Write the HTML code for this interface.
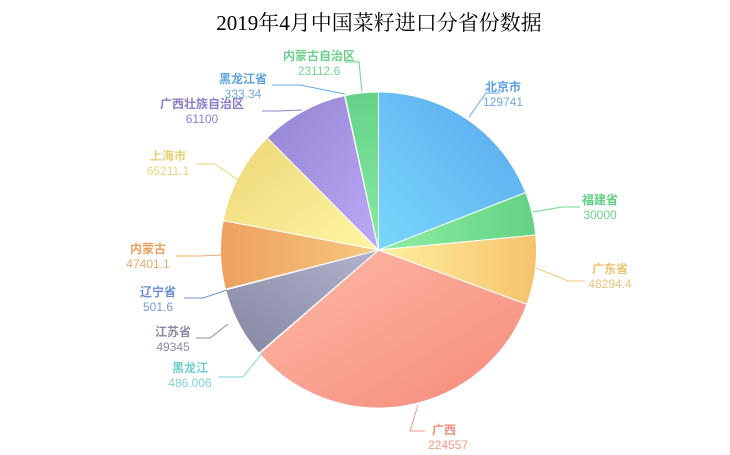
<!DOCTYPE html>
<html><head><meta charset="utf-8"><style>
html,body{margin:0;padding:0;background:#fff;width:730px;height:455px;overflow:hidden}
svg{display:block}
text{font-family:"Liberation Sans","Noto Sans CJK SC",sans-serif;font-size:12px;text-anchor:middle}
.n{font-weight:bold}
</style></head><body>
<svg id="s" width="730" height="455" viewBox="0 0 730 455">
<defs>
<linearGradient id="g0" x1="1" y1="0" x2="0" y2="1"><stop offset="0" stop-color="#58a6ec"/><stop offset="1" stop-color="#78d8fc"/></linearGradient>
<linearGradient id="g1" x1="1" y1="0" x2="0" y2="0"><stop offset="0" stop-color="#62d282"/><stop offset="1" stop-color="#8ef0a4"/></linearGradient>
<linearGradient id="g2" x1="1" y1="0" x2="0" y2="0"><stop offset="0" stop-color="#f6c26c"/><stop offset="1" stop-color="#fff0a0"/></linearGradient>
<linearGradient id="g3" x1="1" y1="1" x2="0" y2="0"><stop offset="0" stop-color="#f58a7a"/><stop offset="1" stop-color="#ffbaa8"/></linearGradient>
<linearGradient id="g4" x1="0" y1="0" x2="1" y2="0"><stop offset="0" stop-color="#70cfcf"/><stop offset="1" stop-color="#90e6e6"/></linearGradient>
<linearGradient id="g5" x1="0" y1="1" x2="1" y2="0"><stop offset="0" stop-color="#8486a2"/><stop offset="1" stop-color="#b2b4cc"/></linearGradient>
<linearGradient id="g6" x1="0" y1="0" x2="1" y2="0"><stop offset="0" stop-color="#6a8cd8"/><stop offset="1" stop-color="#8aa8ee"/></linearGradient>
<linearGradient id="g7" x1="0" y1="0" x2="1" y2="0"><stop offset="0" stop-color="#eea060"/><stop offset="1" stop-color="#f8c880"/></linearGradient>
<linearGradient id="g8" x1="0" y1="0" x2="1" y2="1"><stop offset="0" stop-color="#ecd676"/><stop offset="1" stop-color="#fff6a4"/></linearGradient>
<linearGradient id="g9" x1="0" y1="0" x2="1" y2="1"><stop offset="0" stop-color="#9484d0"/><stop offset="1" stop-color="#bca8f8"/></linearGradient>
<linearGradient id="g10" x1="0" y1="0" x2="1" y2="0"><stop offset="0" stop-color="#5aa6e8"/><stop offset="1" stop-color="#7ac4f4"/></linearGradient>
<linearGradient id="g11" x1="0" y1="0" x2="0" y2="1"><stop offset="0" stop-color="#66d28a"/><stop offset="1" stop-color="#88eaa0"/></linearGradient>
</defs>
<text x="379" y="30" style="font-family:'Liberation Serif','Noto Serif CJK SC',serif;font-size:21px">2019年4月中国菜籽进口分省份数据</text>
<g id="pie" stroke="#fff" stroke-width="1"></g>
<g fill="none" stroke-width="1">
<polyline points="469,117 486,93 500,93" stroke="#5fa9e6"/>
<polyline points="533,212 562,207 580,207" stroke="#6cd68a"/>
<polyline points="536,268 568,281 585,281" stroke="#f5c876"/>
<polyline points="418,405 410,431 425,431" stroke="#f39a88"/>
<polyline points="263,352 243,377 218,377" stroke="#7fd6d6"/>
<polyline points="228,324 210,338 196,338" stroke="#8d8fa9"/>
<polyline points="227,290 203,298 184,298" stroke="#7290d8"/>
<polyline points="222,255 200,256 176,256" stroke="#efa866"/>
<polyline points="238,180 215,164 196,164" stroke="#e8d57a"/>
<polyline points="302,110 278,111 262,111" stroke="#9484d0"/>
<polyline points="345,94 300,85 272,85" stroke="#5fa9e6"/>
<polyline points="362,92 359,62 345,62" stroke="#6cd68a"/>
</g>
<g>
<text class="n" x="503" y="91" fill="#5ca2e0">北京市</text><text x="503" y="106" fill="#6ea8e0">129741</text>
<text class="n" x="600" y="204" fill="#5ccf80">福建省</text><text x="600" y="219" fill="#6cd08c">30000</text>
<text class="n" x="610" y="273" fill="#f0c070">广东省</text><text x="610" y="288" fill="#f0c47c">48294.4</text>
<text class="n" x="444" y="434" fill="#f08e7c">广西</text><text x="448" y="449" fill="#f09a88">224557</text>
<text class="n" x="190" y="372" fill="#6ccccc">黑龙江</text><text x="190" y="387" fill="#7ed4d4">486.006</text>
<text class="n" x="173" y="336" fill="#8a8ca6">江苏省</text><text x="173" y="351" fill="#8a8ca6">49345</text>
<text class="n" x="158" y="296" fill="#6a8cd8">辽宁省</text><text x="158" y="311" fill="#7a98dc">501.6</text>
<text class="n" x="148" y="253" fill="#eca060">内蒙古</text><text x="148" y="268" fill="#eca868">47401.1</text>
<text class="n" x="168" y="160" fill="#e8d274">上海市</text><text x="168" y="175" fill="#e8d47c">65211.1</text>
<text class="n" x="202" y="108" fill="#8c7ccc">广西壮族自治区</text><text x="202" y="123" fill="#8c7ccc">61100</text>
<text class="n" x="243" y="83" fill="#5ca2e0">黑龙江省</text><text x="243" y="98" fill="#6ea8e0">333.34</text>
<text class="n" x="319" y="60" fill="#6cd08c">内蒙古自治区</text><text x="319" y="75" fill="#72d490">23112.6</text>
</g>
</svg>
<script>
var v=[129741,30000,48294.4,224557,486.006,49345,501.6,47401.1,65211.1,61100,333.34,23112.6];
var t=v.reduce(function(a,b){return a+b},0),cx=378.5,cy=250,r=158,a=0,g=document.getElementById('pie'),h='';
for(var i=0;i<v.length;i++){var b=a+v[i]/t*2*Math.PI;
var x1=cx+r*Math.sin(a),y1=cy-r*Math.cos(a),x2=cx+r*Math.sin(b),y2=cy-r*Math.cos(b);
h+='<path fill="url(#g'+i+')" d="M'+cx+','+cy+'L'+x1+','+y1+'A'+r+','+r+' 0 '+((b-a)>Math.PI?1:0)+' 1 '+x2+','+y2+'Z"/>';a=b;}
g.innerHTML=h;
</script>
</body></html>
